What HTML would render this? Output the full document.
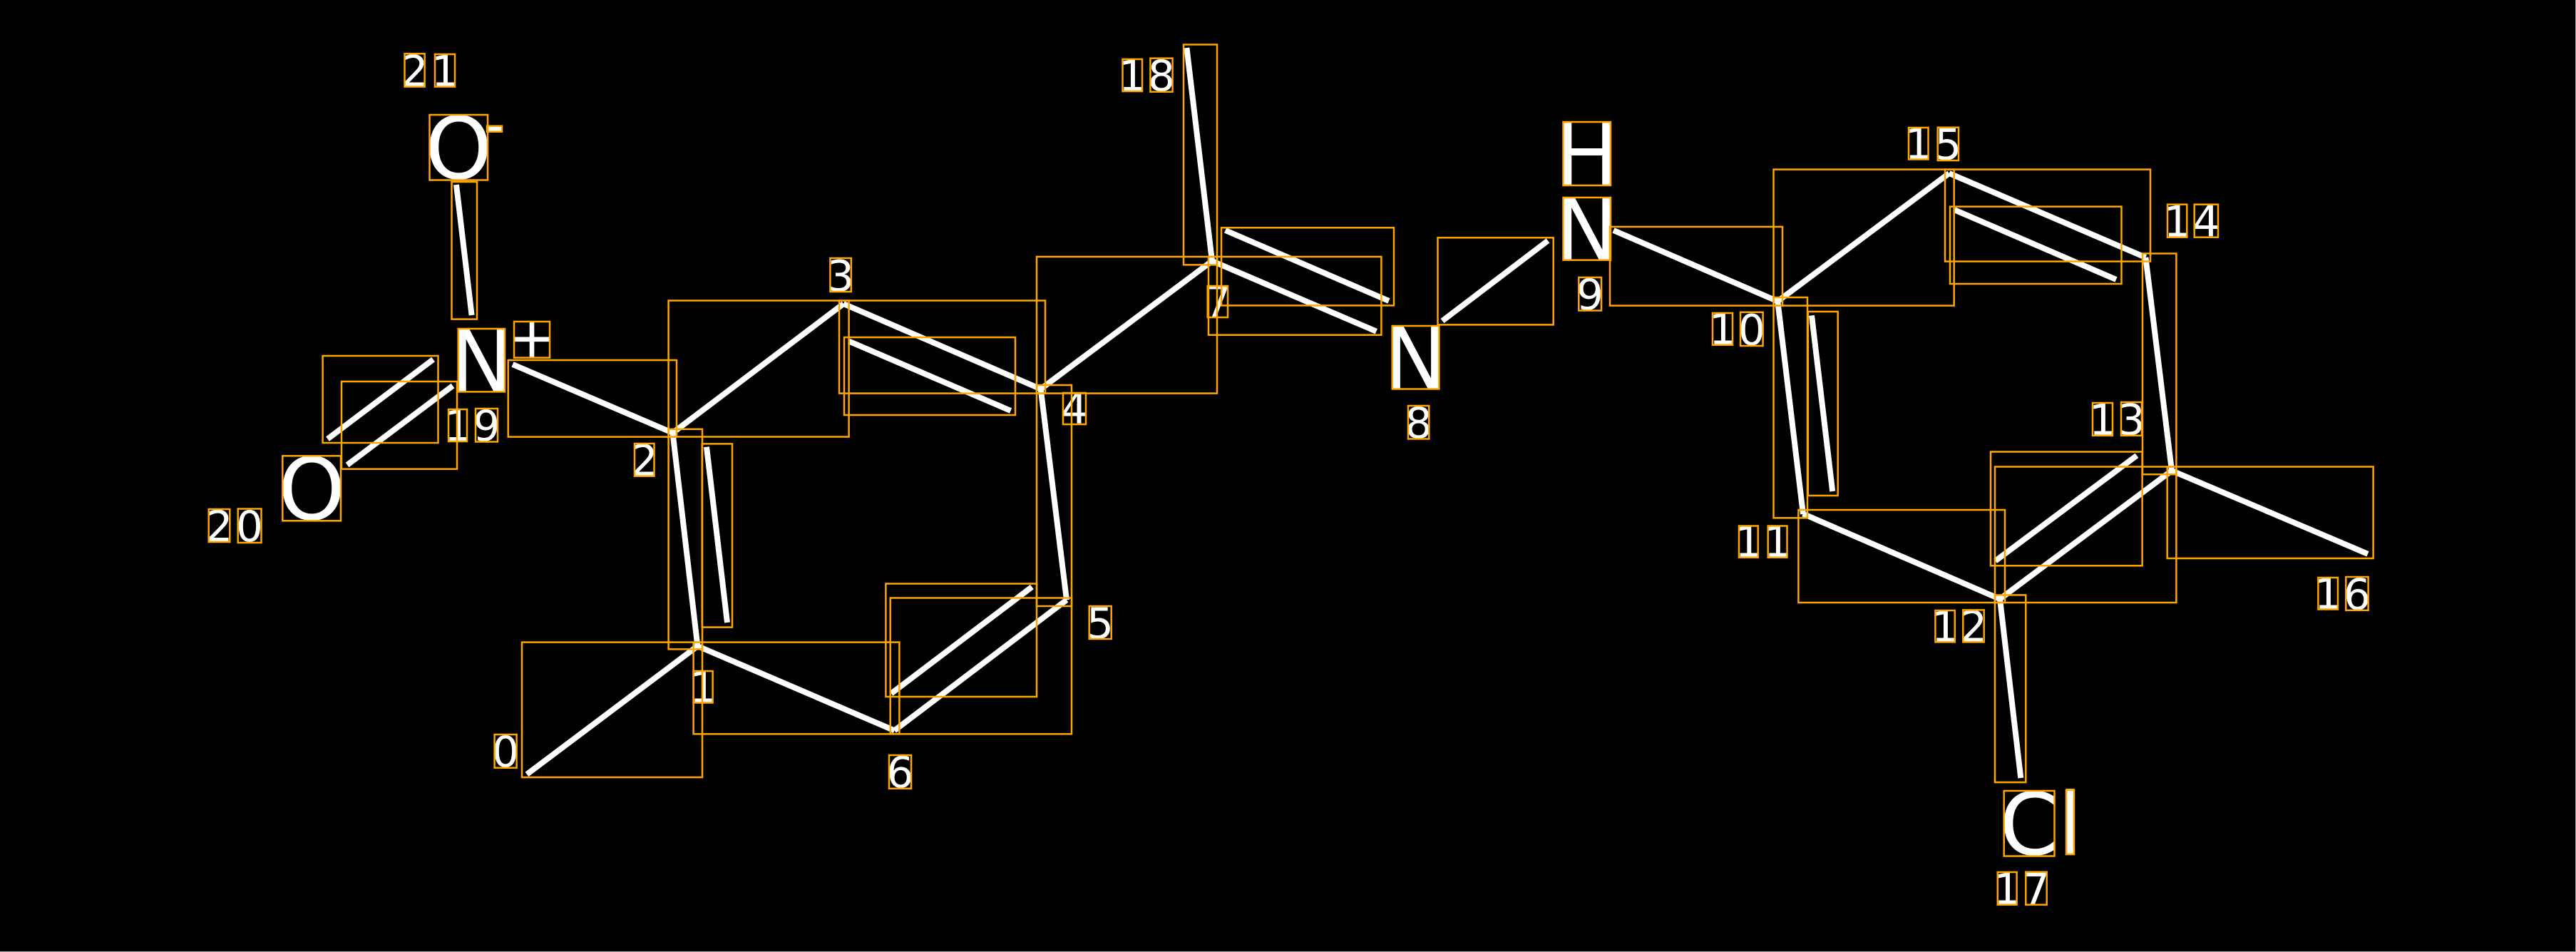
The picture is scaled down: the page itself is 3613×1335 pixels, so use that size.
<!DOCTYPE html>
<html>
<head>
<meta charset="utf-8">
<title>Molecule diagram</title>
<style>
html,body{margin:0;padding:0;background:#000;width:3613px;height:1335px;overflow:hidden}
svg{display:block}
text{font-family:"DejaVu Sans",sans-serif;fill:#fff;text-anchor:middle}
.s{font-size:60px}
.b{font-size:120px}
.c{font-size:80px}
.l line{stroke:#fff;stroke-width:8;stroke-linecap:butt}
.r rect{fill:none;stroke:#ffa500;stroke-width:2.5}
</style>
</head>
<body>
<svg width="3613" height="1335" viewBox="0 0 3613 1335" xmlns="http://www.w3.org/2000/svg">
<rect x="0" y="0" width="3613" height="1335" fill="#000"/>
<rect x="3612" y="0" width="1" height="1335" fill="#aaa"/>
<rect x="0" y="1334" width="3613" height="1" fill="#aaa"/>

<g class="l">
<line x1="640" y1="259" x2="661.6" y2="442"/>
<line x1="719" y1="511" x2="943.5" y2="607"/>
<line x1="459.5" y1="615.6" x2="607.6" y2="504"/>
<line x1="487" y1="652" x2="635" y2="541"/>
<line x1="943.5" y1="607" x2="978.4" y2="906"/>
<line x1="991" y1="626.7" x2="1020" y2="873"/>
<line x1="739" y1="1085.8" x2="978.4" y2="906"/>
<line x1="978.4" y1="906" x2="1254.5" y2="1024.4"/>
<line x1="1254.5" y1="1024.4" x2="1496" y2="841.3"/>
<line x1="1250" y1="972.5" x2="1447.4" y2="823"/>
<line x1="1459.7" y1="545.5" x2="1496" y2="841.3"/>
<line x1="943.5" y1="607" x2="1183" y2="426"/>
<line x1="1183" y1="426" x2="1459.7" y2="545.5"/>
<line x1="1190.6" y1="478.5" x2="1417.6" y2="576"/>
<line x1="1459.7" y1="545.5" x2="1700" y2="366"/>
<line x1="1664.4" y1="67" x2="1700" y2="366"/>
<line x1="1700" y1="366" x2="1930.4" y2="464.7"/>
<line x1="1718.6" y1="323" x2="1948" y2="422"/>
<line x1="2023" y1="450" x2="2171" y2="337.5"/>
<line x1="2263" y1="323" x2="2493.3" y2="422.5"/>
<line x1="2493.3" y1="422.5" x2="2733.8" y2="243"/>
<line x1="2733.8" y1="243" x2="3009.4" y2="361"/>
<line x1="2741.3" y1="294.3" x2="2968" y2="392"/>
<line x1="2493.3" y1="422.5" x2="2529" y2="721"/>
<line x1="2541" y1="442.4" x2="2570.2" y2="689"/>
<line x1="3009.4" y1="361" x2="3046" y2="660"/>
<line x1="2798.6" y1="786.6" x2="2997" y2="638.8"/>
<line x1="2805" y1="840" x2="3046" y2="660"/>
<line x1="3046" y1="660" x2="3321" y2="776.8"/>
<line x1="2528.8" y1="720.5" x2="2805" y2="840"/>
<line x1="2805" y1="840" x2="2834.3" y2="1091"/>
</g>

<g>
<text class="b" x="643.2" y="250.5">O</text>
<text class="c" x="693.5" y="202.6">-</text>
<text class="b" x="675.3" y="549">N</text>
<text class="c" x="746" y="501">+</text>
<text class="b" x="437.2" y="728.5">O</text>
<text class="b" x="1985.5" y="545">N</text>
<text class="b" x="2225.7" y="260">H</text>
<text class="b" x="2225.7" y="364.5">N</text>
<text class="b" x="2846" y="1198.5">C</text>
<text class="b" x="2903.5" y="1197.5">l</text>

<text class="s" x="581.5" y="120.5">2</text>
<text class="s" x="624" y="120.5">1</text>
<text class="s" x="642" y="618">1</text>
<text class="s" x="682.5" y="618">9</text>
<text class="s" x="307.5" y="759">2</text>
<text class="s" x="350" y="759">0</text>
<text class="s" x="903.7" y="666.5">2</text>
<text class="s" x="986" y="984.5">1</text>
<text class="s" x="709" y="1075">0</text>
<text class="s" x="1262.5" y="1104">6</text>
<text class="s" x="1543" y="895">5</text>
<text class="s" x="1179" y="408">3</text>
<text class="s" x="1507" y="594">4</text>
<text class="s" x="1708" y="444">7</text>
<text class="s" x="1588" y="127">1</text>
<text class="s" x="1629" y="127">8</text>
<text class="s" x="1989.6" y="614">8</text>
<text class="s" x="2230" y="434">9</text>
<text class="s" x="2416" y="482.5">1</text>
<text class="s" x="2456.8" y="483.5">0</text>
<text class="s" x="2452.3" y="780.5">1</text>
<text class="s" x="2493" y="780.5">1</text>
<text class="s" x="2728" y="899.5">1</text>
<text class="s" x="2768" y="899.5">2</text>
<text class="s" x="2949" y="609.5">1</text>
<text class="s" x="2989.5" y="609.5">3</text>
<text class="s" x="3053.6" y="331.5">1</text>
<text class="s" x="3094.3" y="331.5">4</text>
<text class="s" x="2690.7" y="222.5">1</text>
<text class="s" x="2732.3" y="223.5">5</text>
<text class="s" x="3265" y="853.5">1</text>
<text class="s" x="3306" y="854.5">6</text>
<text class="s" x="2815" y="1267.5">1</text>
<text class="s" x="2856" y="1267.5">7</text>
</g>

<g class="r">
<rect x="567.5" y="75.3" width="28.1" height="46.3"/>
<rect x="610" y="76" width="28" height="45.6"/>
<rect x="602.5" y="161" width="81.5" height="91.5"/>
<rect x="683" y="176.7" width="21" height="8"/>
<rect x="642.7" y="461" width="65.3" height="88.4"/>
<rect x="721" y="451" width="50" height="50.6"/>
<rect x="629" y="574" width="26" height="45"/>
<rect x="667" y="573" width="31" height="46.5"/>
<rect x="396.3" y="639.3" width="81.7" height="91"/>
<rect x="292.7" y="714" width="29.6" height="46"/>
<rect x="333.7" y="713.5" width="32.8" height="47.5"/>
<rect x="890" y="622" width="27.5" height="45.7"/>
<rect x="972.6" y="941" width="27" height="44.5"/>
<rect x="693.6" y="1030" width="31" height="46.7"/>
<rect x="1247" y="1059" width="31" height="46.8"/>
<rect x="1527.7" y="850" width="31" height="46"/>
<rect x="1164.4" y="362" width="29.4" height="47"/>
<rect x="1491" y="551" width="32" height="44"/>
<rect x="1693.7" y="401" width="28.3" height="44"/>
<rect x="1574.5" y="83" width="27.5" height="45"/>
<rect x="1613.4" y="81.7" width="31.2" height="47"/>
<rect x="1952.7" y="457" width="65.7" height="88.5"/>
<rect x="1975" y="569" width="29.3" height="46.5"/>
<rect x="2192.5" y="171" width="66.5" height="89"/>
<rect x="2192.5" y="277" width="66.5" height="87.7"/>
<rect x="2214.3" y="389" width="31.7" height="46.5"/>
<rect x="2402" y="439" width="28" height="44.7"/>
<rect x="2441" y="437.8" width="31.6" height="47.2"/>
<rect x="2439" y="737.5" width="26.7" height="44.2"/>
<rect x="2479.7" y="737.5" width="26.8" height="44.2"/>
<rect x="2714.4" y="856" width="27.4" height="44.4"/>
<rect x="2753.3" y="855.4" width="29.4" height="45"/>
<rect x="2935" y="565" width="28" height="45.8"/>
<rect x="2975" y="564" width="29" height="46.8"/>
<rect x="3040" y="286.7" width="27.3" height="46"/>
<rect x="3077.7" y="286.7" width="33.3" height="46"/>
<rect x="2677" y="179" width="27.5" height="44.5"/>
<rect x="2717.7" y="178.7" width="29.3" height="46.3"/>
<rect x="3251.4" y="810" width="27.6" height="44.5"/>
<rect x="3290.3" y="809" width="31.3" height="46.8"/>
<rect x="2810.7" y="1109" width="70.8" height="91.5"/>
<rect x="2898" y="1107.6" width="11" height="90.4"/>
<rect x="2801.8" y="1223" width="26.8" height="45.7"/>
<rect x="2841.3" y="1222.8" width="29.4" height="45.9"/>
<rect x="633.5" y="255" width="35.5" height="192.6"/>
<rect x="712.7" y="505" width="236.3" height="107.6"/>
<rect x="452.6" y="499" width="161.9" height="122"/>
<rect x="479" y="535" width="162" height="122.7"/>
<rect x="937.6" y="601.8" width="47.4" height="308.6"/>
<rect x="984.7" y="622.4" width="42.3" height="257.2"/>
<rect x="732" y="900.6" width="253" height="189.4"/>
<rect x="972.6" y="900.6" width="288.8" height="128.7"/>
<rect x="1248.7" y="838.5" width="254.3" height="190.8"/>
<rect x="1242.4" y="818.5" width="211.6" height="158.5"/>
<rect x="1454" y="540" width="49" height="310"/>
<rect x="937.6" y="421.5" width="253" height="191"/>
<rect x="1177" y="421.5" width="289" height="130.1"/>
<rect x="1184" y="473" width="240" height="109"/>
<rect x="1454" y="360" width="253" height="191.6"/>
<rect x="1660" y="62.5" width="47" height="308.9"/>
<rect x="1695" y="360" width="242.4" height="109.7"/>
<rect x="1713" y="319.3" width="242" height="109.1"/>
<rect x="2016.5" y="333.3" width="162.2" height="122.1"/>
<rect x="2258" y="318" width="242" height="110.6"/>
<rect x="2487.5" y="237.6" width="253.2" height="191"/>
<rect x="2728" y="237.6" width="288" height="129"/>
<rect x="2735" y="289.7" width="240.5" height="108.3"/>
<rect x="2487.5" y="417" width="47.5" height="309.3"/>
<rect x="2535.8" y="437" width="41.9" height="258"/>
<rect x="3005" y="355.5" width="47.4" height="309.7"/>
<rect x="2792" y="633.5" width="212.6" height="159.8"/>
<rect x="2798" y="654.5" width="254.4" height="190.5"/>
<rect x="3039.7" y="654.5" width="288.9" height="128.5"/>
<rect x="2522.4" y="715" width="289.6" height="130"/>
<rect x="2798" y="834.4" width="43.3" height="262.6"/>
</g>
</svg>
</body>
</html>
